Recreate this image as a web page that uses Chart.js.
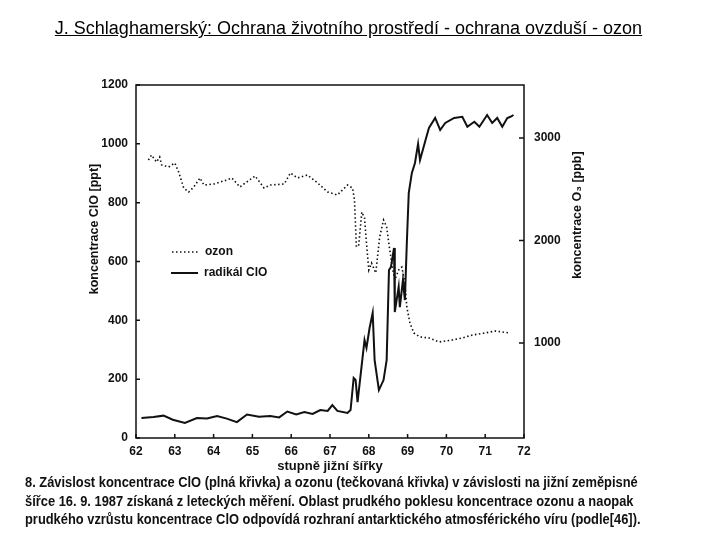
<!DOCTYPE html>
<html>
<head>
<meta charset="utf-8">
<script src="https://cdn.jsdelivr.net/npm/chart.js@4.4.0/dist/chart.umd.min.js"></script>
<style>
  body { margin: 0; background: #fff; }
  #wrap { position: relative; width: 720px; height: 540px; overflow: hidden; }
  #chart { position: absolute; left: 0; top: 0; }
  .title {
    position: absolute; top: 18px; left: 0; width: 697px; text-align: center;
    font: 18px "Liberation Sans", Arial, sans-serif; text-decoration: underline; color: #000;
  }
  .caption {
    position: absolute; left: 25px; top: 473px; white-space: nowrap; color: #111;
    font: bold 14px "Liberation Sans", Arial, sans-serif;
    line-height: 18.5px;
    transform: scaleX(0.92); transform-origin: 0 0;
  }
</style>
</head>
<body>
<div id="wrap">
  <canvas id="chart" width="720" height="540"></canvas>
  <div class="title">J. Schlaghamerský: Ochrana životního prostředí - ochrana ovzduší - ozon</div>
  <div class="caption">8. Závislost koncentrace ClO (plná křivka) a ozonu (tečkovaná křivka) v závislosti na jižní zeměpisné<br>šířce 16. 9. 1987 získaná z leteckých měření. Oblast prudkého poklesu koncentrace ozonu a naopak<br>prudkého vzrůstu koncentrace ClO odpovídá rozhraní antarktického atmosférického víru (podle[46]).</div>
</div>
<script>
// radikál ClO [ppt] vs. latitude (°S)
const cloLat = [62.14, 62.45, 62.71, 62.95, 63.26, 63.57, 63.83, 64.09, 64.34, 64.6, 64.86, 65.17,
  65.46, 65.69, 65.9, 66.13, 66.34, 66.55, 66.75, 66.94, 67.06, 67.19, 67.45, 67.53, 67.61, 67.66,
  67.71, 67.89, 67.94, 68.02, 68.1, 68.15, 68.26, 68.38, 68.46, 68.52, 68.57, 68.65, 68.67, 68.77,
  68.8, 68.88, 68.93, 68.98, 69.03, 69.11, 69.19, 69.27, 69.32, 69.45, 69.55, 69.71, 69.84, 69.97,
  70.2, 70.41, 70.54, 70.72, 70.85, 71.05, 71.18, 71.31, 71.44, 71.57, 71.65, 71.73];
const cloVal = [68, 71, 76, 62, 51, 68, 66, 75, 66, 54, 80, 72,
  75, 70, 90, 80, 88, 82, 95, 92, 112, 92, 85, 95, 204, 197,
  122, 333, 306, 374, 425, 265, 163, 197, 265, 571, 581, 646, 428, 514,
  445, 537, 469, 663, 833, 901, 935, 1000, 945, 1007, 1054, 1088, 1047, 1071,
  1088, 1092, 1058, 1075, 1058, 1098, 1071, 1088, 1058, 1088, 1092, 1098];

// ozon [ppb] vs. latitude (°S)
const ozonLat = [62.32, 62.4, 62.53, 62.61, 62.66, 62.84, 63.0, 63.1, 63.23, 63.36, 63.49, 63.65,
  63.75, 64.01, 64.34, 64.47, 64.68, 64.78, 65.07, 65.3, 65.46, 65.82, 65.98, 66.16, 66.42, 66.68,
  66.94, 67.19, 67.45, 67.58, 67.63, 67.68, 67.74, 67.82, 67.89, 67.94, 68.0, 68.07, 68.18, 68.28,
  68.38, 68.46, 68.54, 68.62, 68.67, 68.77, 68.85, 68.93, 68.98, 69.06, 69.16, 69.32, 69.55, 69.81,
  70.15, 70.41, 70.67, 71.0, 71.26, 71.62];
const ozonVal = [2785, 2834, 2766, 2815, 2737, 2717, 2756, 2668, 2512, 2473, 2522, 2610,
  2541, 2551, 2590, 2610, 2522, 2551, 2629, 2512, 2541, 2551, 2659, 2610, 2639, 2561,
  2473, 2444, 2541, 2512, 2400, 1937, 1956, 2278, 2220, 1976, 1712, 1780, 1683, 2034,
  2200, 2132, 1907, 1712, 1615, 1712, 1741, 1585, 1351, 1195, 1098, 1059, 1049, 1010,
  1029, 1049, 1078, 1098, 1117, 1098];

const xTicks = [62, 63, 64, 65, 66, 67, 68, 69, 70, 71, 72];
const leftTicks = [0, 200, 400, 600, 800, 1000, 1200];
const rightTicks = [1000, 2000, 3000];

const ink = '#111';
const tickFont = { family: '"Liberation Sans", Arial, sans-serif', size: 12, weight: 'bold' };

const frame = {
  id: 'frame',
  afterDatasetsDraw(chart) {
    const { ctx, chartArea: a, scales } = chart;
    ctx.save();
    ctx.strokeStyle = ink;
    ctx.lineWidth = 1.5;
    ctx.strokeRect(a.left, a.top, a.right - a.left, a.bottom - a.top);
    // short ticks pointing into the plot
    ctx.beginPath();
    scales.x.ticks.forEach(t => {
      const p = scales.x.getPixelForValue(t.value);
      ctx.moveTo(p, a.bottom); ctx.lineTo(p, a.bottom - 4);
    });
    scales.y.ticks.forEach(t => {
      const p = scales.y.getPixelForValue(t.value);
      ctx.moveTo(a.left, p); ctx.lineTo(a.left + 4, p);
    });
    scales.y2.ticks.forEach(t => {
      const p = scales.y2.getPixelForValue(t.value);
      ctx.moveTo(a.right, p); ctx.lineTo(a.right - 5, p);
    });
    ctx.stroke();

    // legend inside the plot
    ctx.font = 'bold 12px "Liberation Sans", Arial, sans-serif';
    ctx.fillStyle = ink;
    ctx.textBaseline = 'middle';
    const rows = [[172, 252], [171, 273]];
    chart.data.datasets.slice().reverse().forEach((ds, i) => {
      const [lx, ly] = rows[i];
      ctx.beginPath();
      ctx.lineWidth = ds.borderWidth;
      ctx.setLineDash(ds.borderDash || []);
      ctx.moveTo(lx, ly); ctx.lineTo(lx + 27, ly);
      ctx.stroke();
      ctx.setLineDash([]);
      ctx.fillText(ds.label, lx + 33, ly);
    });

    // axis titles
    ctx.textAlign = 'center';
    ctx.font = 'bold 12.5px "Liberation Sans", Arial, sans-serif';
    ctx.save();
    ctx.translate(95, 229); ctx.rotate(-Math.PI / 2);
    ctx.fillText('koncentrace ClO [ppt]', 0, 0);
    ctx.restore();
    ctx.save();
    ctx.translate(578, 215); ctx.rotate(-Math.PI / 2);
    ctx.fillText('koncentrace O\u2083 [ppb]', 0, 0);
    ctx.restore();
    ctx.font = 'bold 13px "Liberation Sans", Arial, sans-serif';
    ctx.fillText('stupně jižní šířky', (a.left + a.right) / 2, 466);
    ctx.restore();
  }
};

new Chart(document.getElementById('chart'), {
  type: 'line',
  data: {
    datasets: [
      {
        label: 'radikál ClO',
        data: cloLat.map((x, i) => ({ x, y: cloVal[i] })),
        yAxisID: 'y',
        borderColor: ink,
        borderWidth: 2,
        pointRadius: 0,
        tension: 0,
      },
      {
        label: 'ozon',
        data: ozonLat.map((x, i) => ({ x, y: ozonVal[i] })),
        yAxisID: 'y2',
        borderColor: ink,
        borderWidth: 1.6,
        borderDash: [1.5, 2.5],
        pointRadius: 0,
        tension: 0,
      },
    ],
  },
  options: {
    responsive: false,
    animation: false,
    layout: { padding: { top: 85, left: 0, right: 0, bottom: 0 } },
    plugins: { legend: { display: false }, tooltip: { enabled: false } },
    scales: {
      x: {
        type: 'linear',
        min: 62,
        max: 72,
        afterBuildTicks: s => { s.ticks = xTicks.map(v => ({ value: v })); },
        afterFit: s => { s.height = 102; },
        grid: { display: false, drawTicks: false },
        border: { display: false },
        ticks: { color: ink, font: tickFont, padding: 6, callback: v => v },
      },
      y: {
        position: 'left',
        min: 0,
        max: 1200,
        afterBuildTicks: s => { s.ticks = leftTicks.map(v => ({ value: v })); },
        afterFit: s => { s.width = 136; },
        grid: { display: false, drawTicks: false },
        border: { display: false },
        ticks: { color: ink, font: tickFont, padding: 8, callback: v => v },
      },
      y2: {
        position: 'right',
        min: 73,
        max: 3517,
        afterBuildTicks: s => { s.ticks = rightTicks.map(v => ({ value: v })); },
        afterFit: s => { s.width = 196; },
        grid: { display: false, drawTicks: false },
        border: { display: false },
        ticks: { color: ink, font: tickFont, padding: 10, callback: v => v },
      },
    },
  },
  plugins: [frame],
});
</script>
</body>
</html>
